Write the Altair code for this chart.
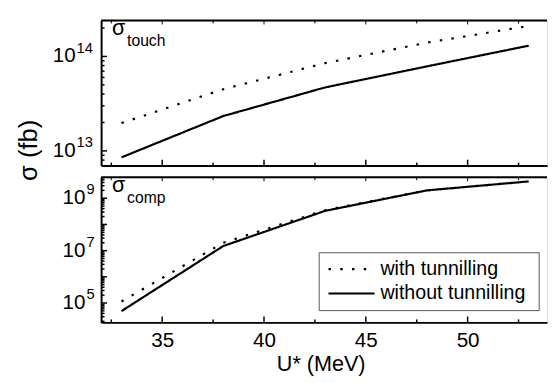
import altair as alt
import pandas as pd

# ---- data ----
U = [33, 38, 43, 48, 53]
SERIES = ["with tunnilling", "without tunnilling"]
TOUCH_WITH = [1.97e13, 4.5e13, 8.5e13, 1.4e14, 2.1e14]
TOUCH_WITHOUT = [8.55e12, 2.34e13, 4.7e13, 7.85e13, 1.3e14]
COMP_WITH = [1.14e5, 2.0e7, 3.5e8, 2.0e9, 4.4e9]
COMP_WITHOUT = [4.9e4, 1.5e7, 3.3e8, 2.0e9, 4.4e9]

# ---- axes / ticks ----
X_DOMAIN = [32, 53.9]
X_MAJOR = [35, 40, 45, 50]
X_MINOR = [32.5, 37.5, 42.5, 47.5, 52.5]

TOP_DOMAIN = [7.0e12, 2.4e14]
TOP_MAJOR = [1e13, 1e14]
TOP_LABELED = [1e13, 1e14]
TOP_EXP = ["13", "14"]
TOP_MINOR = [8e12, 9e12, 2e13, 3e13, 4e13, 5e13, 6e13, 7e13, 8e13, 9e13, 2e14]

BOT_DOMAIN = [1.82e4, 6.3e9]
BOT_MAJOR = [1e5, 1e6, 1e7, 1e8, 1e9]
BOT_LABELED = [1e5, 1e7, 1e9]
BOT_EXP = ["5", "7", "9"]
MANTISSAS = [2, 3, 4, 5, 6, 7, 8, 9]
DECADES = [1e4, 1e5, 1e6, 1e7, 1e8, 1e9]
BOT_MINOR = [m * d for d in DECADES for m in MANTISSAS
             if BOT_DOMAIN[0] <= m * d <= BOT_DOMAIN[1]]

DASHES = [[2.5, 9.5], [1, 0]]

W, H = 455, 148
FONT = "Liberation Sans"


def panel(with_vals, without_vals, ydomain, ymajor, yminor, ylab, yexp,
          base_right, sub_text, bottom):
    df = pd.DataFrame({
        "U": U * 2,
        "sigma": with_vals + without_vals,
        "series": [SERIES[0]] * len(U) + [SERIES[1]] * len(U),
    })
    xs = alt.Scale(domain=X_DOMAIN, nice=False, zero=False)
    ys = alt.Scale(type="log", domain=ydomain, nice=False)

    if bottom:
        xaxis = alt.Axis(title="U* (MeV)", values=X_MAJOR, labels=True, ticks=True,
                         tickSize=0, labelPadding=8, labelFontSize=21, labelFont=FONT,
                         labelColor="black", grid=False, domainColor="black",
                         domainWidth=2, titleFontSize=22, titleFont=FONT,
                         titleFontWeight="normal", titleColor="black",
                         titleY=32, titleX=224, titleBaseline="top", titleAlign="center")
    else:
        xaxis = alt.Axis(title=None, labels=False, ticks=False, grid=False,
                         domainColor="black", domainWidth=2)
    if bottom:
        yaxis = alt.Axis(title=None, labels=False, ticks=False, grid=False,
                         domainColor="black", domainWidth=2)
    else:
        yaxis = alt.Axis(title="σ (fb)", labels=False, ticks=False, grid=False,
                         domainColor="black", domainWidth=2, titleX=-61, titleY=132,
                         titleAngle=270, titleAlign="center", titleBaseline="bottom",
                         titleFontSize=26, titleFont=FONT, titleFontWeight="normal",
                         titleColor="black")

    X = lambda: alt.X("U:Q", scale=xs, axis=xaxis)
    Y = lambda: alt.Y("sigma:Q", scale=ys, axis=yaxis)

    lines = alt.Chart(df).mark_line(color="black", strokeWidth=2.2).encode(
        x=X(), y=Y(),
        strokeDash=alt.StrokeDash("series:N",
                                  scale=alt.Scale(domain=SERIES, range=DASHES),
                                  legend=None),
    )

    xmaj = pd.DataFrame({"U": X_MAJOR})
    xmin = pd.DataFrame({"U": X_MINOR})
    ymaj = pd.DataFrame({"sigma": ymajor})
    ymin = pd.DataFrame({"sigma": yminor})

    layers = [lines]
    # inward x ticks (bottom and top)
    layers.append(alt.Chart(xmaj).mark_rule(color="black", strokeWidth=1.5).encode(
        x=X(), y=alt.value(H), y2=alt.value(H - 6)))
    layers.append(alt.Chart(xmin).mark_rule(color="black", strokeWidth=1.5).encode(
        x=X(), y=alt.value(H), y2=alt.value(H - 3)))
    layers.append(alt.Chart(xmaj).mark_rule(color="black", strokeWidth=1).encode(
        x=X(), y=alt.value(0), y2=alt.value(4)))
    layers.append(alt.Chart(xmin).mark_rule(color="black", strokeWidth=1).encode(
        x=X(), y=alt.value(0), y2=alt.value(3)))
    # inward y ticks (left)
    layers.append(alt.Chart(ymaj).mark_rule(color="black", strokeWidth=1.5).encode(
        y=Y(), x=alt.value(0), x2=alt.value(6)))
    layers.append(alt.Chart(ymin).mark_rule(color="black", strokeWidth=1.5).encode(
        y=Y(), x=alt.value(0), x2=alt.value(3.5)))
    # top border
    one = pd.DataFrame({"a": [0]})
    layers.append(alt.Chart(one).mark_rule(color="black", strokeWidth=2).encode(
        x=alt.value(0), x2=alt.value(W), y=alt.value(0)))

    # y tick labels 10^n
    lab = pd.DataFrame({"sigma": ylab, "exp": yexp, "base": ["10"] * len(ylab)})
    layers.append(alt.Chart(lab).mark_text(
        align="right", baseline="middle", font=FONT, fontSize=21, color="black").encode(
        y=Y(), x=alt.value(base_right), text="base:N"))
    layers.append(alt.Chart(lab).mark_text(
        align="left", baseline="middle", font=FONT, fontSize=15, color="black", dy=-9).encode(
        y=Y(), x=alt.value(base_right + 1), text="exp:N"))

    # panel label sigma_sub
    layers.append(alt.Chart(one).mark_text(
        text="σ", align="left", baseline="alphabetic", font=FONT, fontSize=22,
        color="black").encode(x=alt.value(11), y=alt.value(15)))
    layers.append(alt.Chart(one).mark_text(
        text=sub_text, align="left", baseline="alphabetic", font=FONT, fontSize=16,
        color="black").encode(x=alt.value(26.5), y=alt.value(26)))

    if bottom:
        # legend box drawn inside the lower panel
        layers.append(alt.Chart(one).mark_rect(
            fill="white", stroke="#555555", strokeWidth=1).encode(
            x=alt.value(222.5), x2=alt.value(447), y=alt.value(77), y2=alt.value(136)))
        for i, s in enumerate(SERIES):
            ly = 93.7 + i * 24.8
            layers.append(alt.Chart(one).mark_rule(
                color="black", strokeWidth=2.2, strokeDash=DASHES[i]).encode(
                x=alt.value(232), x2=alt.value(279), y=alt.value(ly)))
            layers.append(alt.Chart(one).mark_text(
                text=s, align="left", baseline="middle", font=FONT, fontSize=20,
                color="black").encode(x=alt.value(285), y=alt.value(ly)))

    return alt.layer(*layers).properties(width=W, height=H)


top = panel(TOUCH_WITH, TOUCH_WITHOUT, TOP_DOMAIN, TOP_MAJOR, TOP_MINOR,
            TOP_LABELED, TOP_EXP, -26, "touch", False)
bot = panel(COMP_WITH, COMP_WITHOUT, BOT_DOMAIN, BOT_MAJOR, BOT_MINOR,
            BOT_LABELED, BOT_EXP, -16, "comp", True)

chart = alt.vconcat(top, bot, spacing=12, bounds="flush").properties(
    padding={"left": 7, "top": 5, "right": 0, "bottom": 0}
).configure_view(strokeWidth=0).configure(background="white")

chart.save("out.html", embed_options={"renderer": "svg", "actions": False})
